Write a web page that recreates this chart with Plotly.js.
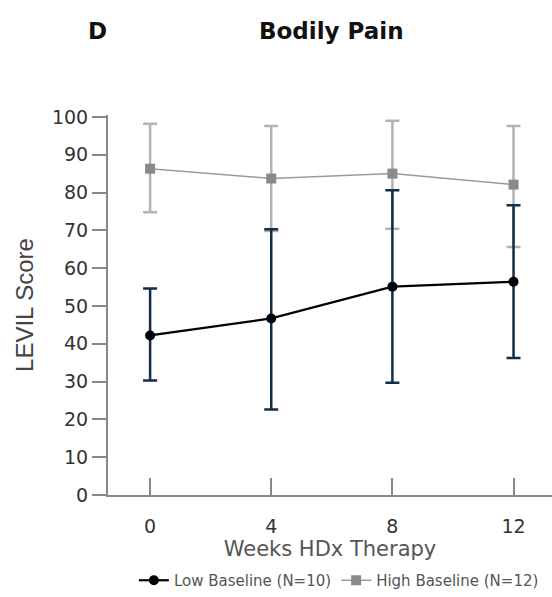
<!DOCTYPE html>
<html>
<head>
<meta charset="utf-8">
<script src="https://cdn.plot.ly/plotly-3.0.1.min.js"></script>
<style>html,body{margin:0;padding:0;background:#fff;}#chart{width:552px;height:597px;}</style>
</head>
<body>
<div id="chart"></div>
<script>
const weeks = [0, 4, 8, 12];
const tickLabels = ['0', '4', '8', '12'];
const yTicks = [0, 10, 20, 30, 40, 50, 60, 70, 80, 90, 100];

const lowName = 'Low Baseline (N=10)';
const lowMean = [42.2, 46.7, 55.1, 56.4];
const lowErrUp = [12.4, 23.6, 25.5, 20.2];
const lowErrDown = [11.9, 24.1, 25.4, 20.2];

const highName = 'High Baseline (N=12)';
const highMean = [86.3, 83.7, 85.0, 82.1];
const highErrUp = [11.9, 13.9, 14.0, 15.5];
const highErrDown = [11.5, 13.9, 14.6, 16.5];

const FONT = '"DejaVu Sans", sans-serif';
const FONT_Y = '"Liberation Sans", Arial, sans-serif';

const traces = [
  {
    x: weeks, y: highMean, name: highName, type: 'scatter', mode: 'lines+markers',
    line: {color: '#9a9a9a', width: 1.5},
    marker: {symbol: 'square', size: 10, color: '#8a8a8a'},
    error_y: {type: 'data', symmetric: false, array: highErrUp, arrayminus: highErrDown,
      color: '#b3b3b3', thickness: 2.5, width: 7}
  },
  {
    x: weeks, y: lowMean, name: lowName, type: 'scatter', mode: 'lines+markers',
    line: {color: '#000000', width: 2.2},
    marker: {symbol: 'circle', size: 10, color: '#000000'},
    error_y: {type: 'data', symmetric: false, array: lowErrUp, arrayminus: lowErrDown,
      color: '#132c48', thickness: 2.5, width: 7}
  }
];

const layout = {
  width: 552, height: 597,
  margin: {l: 108, r: 0, t: 115, b: 101},
  paper_bgcolor: '#fff', plot_bgcolor: '#fff',
  font: {family: FONT, color: '#333', size: 17},
  showlegend: true,
  legend: {orientation: 'h', x: 0.52, xanchor: 'center', y: -0.225, yanchor: 'middle',
    font: {size: 15, color: '#555'}, traceorder: 'reversed', itemwidth: 30},
  xaxis: {
    range: [-1.39, 13.27], tickvals: weeks, ticktext: tickLabels,
    ticks: 'inside', ticklen: 17, tickwidth: 2, tickcolor: '#888',
    showline: true, linecolor: '#888', linewidth: 2, showgrid: false, zeroline: false,
    ticklabelstandoff: 13,
    tickfont: {size: 19, color: '#333', family: FONT},
    title: {text: 'Weeks HDx Therapy', font: {size: 21, color: '#555', family: FONT}, standoff: 6}
  },
  yaxis: {
    range: [0, 100.5], tickvals: yTicks,
    ticks: 'outside', ticklen: 14, tickwidth: 2, tickcolor: '#888',
    showline: true, linecolor: '#888', linewidth: 2, showgrid: false, zeroline: false,
    tickfont: {size: 19, color: '#333', family: FONT},
    title: {text: 'LEVIL Score', font: {size: 24, color: '#444', family: FONT_Y}, standoff: 12}
  },
  annotations: [
    {text: '<b>D</b>', xref: 'paper', yref: 'paper', x: (97 - 108) / 444, y: 1 + (115 - 31) / 381,
      xanchor: 'center', yanchor: 'middle', showarrow: false, font: {size: 23, color: '#111', family: FONT}},
    {text: '<b>Bodily Pain</b>', xref: 'paper', yref: 'paper', x: (331 - 108) / 444, y: 1 + (115 - 31) / 381,
      xanchor: 'center', yanchor: 'middle', showarrow: false, font: {size: 23, color: '#111', family: FONT}}
  ]
};

Plotly.newPlot('chart', traces, layout, {displayModeBar: false, staticPlot: true});
</script>
</body>
</html>
